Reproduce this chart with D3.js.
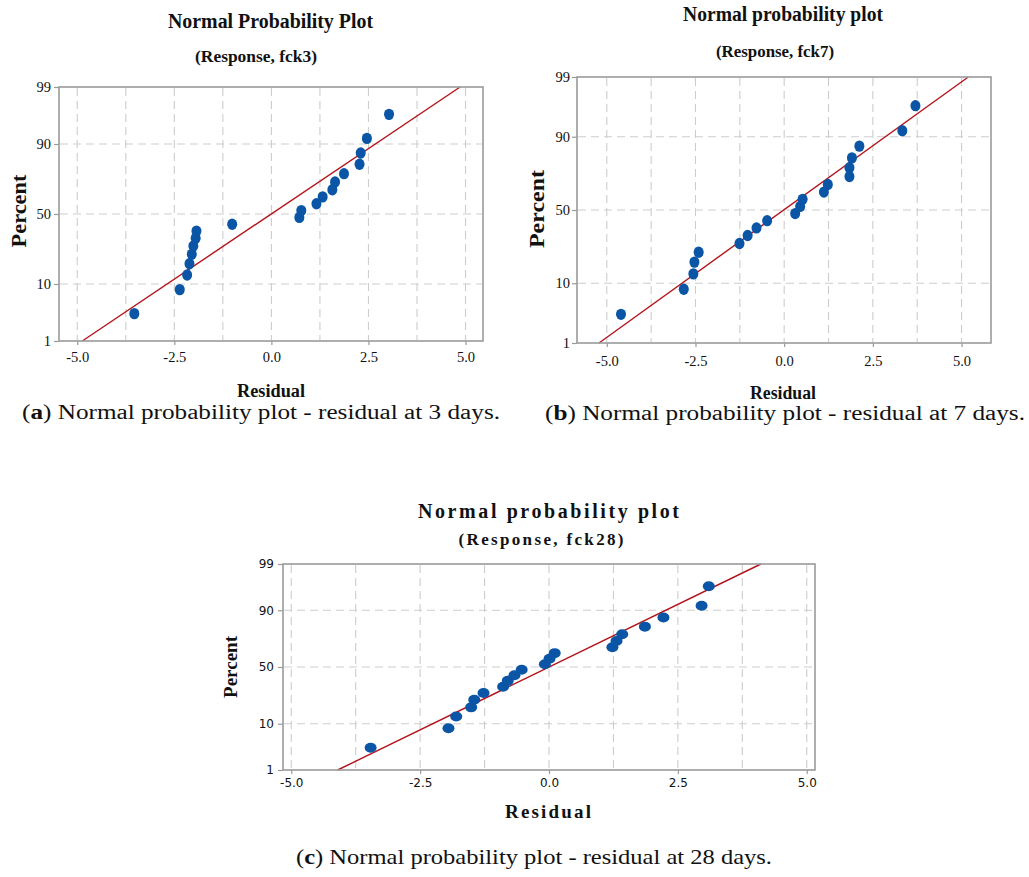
<!DOCTYPE html>
<html><head><meta charset="utf-8">
<script src="https://cdn.jsdelivr.net/npm/d3@7"></script>
<style>body{margin:0;background:#fff}svg{display:block}</style>
</head><body>
<svg id="chart" width="1029" height="877"></svg>
<script>
// ---------------- data ----------------
const plotPercents = [3.4, 8.3, 13.2, 18.1, 23.0, 27.9, 32.8, 37.7, 42.6, 47.5,
                      52.5, 57.4, 62.3, 67.2, 72.1, 77.0, 81.9, 86.8, 91.7, 96.6];
const residualsA = [-3.53, -2.36, -2.17, -2.11, -2.05, -2.01, -1.95, -1.93, -1.01, 0.72,
                     0.77, 1.16, 1.32, 1.57, 1.64, 1.87, 2.27, 2.30, 2.46, 3.03];
const residualsB = [-4.60, -2.83, -2.56, -2.53, -2.41, -1.26, -1.03, -0.78, -0.48, 0.31,
                     0.45, 0.52, 1.12, 1.23, 1.84, 1.84, 1.91, 2.12, 3.33, 3.70];
const residualsC = [-3.46, -1.95, -1.80, -1.51, -1.45, -1.27, -0.89, -0.80, -0.67, -0.53,
                    -0.08, 0.01, 0.11, 1.23, 1.31, 1.42, 1.86, 2.22, 2.96, 3.10];
const fitPercents = [1, 99];
const fitA = [-4.87, 4.86];
const fitB = [-5.22, 5.19];
const fitC = [-4.10, 4.11];
const yTickValues = [1, 10, 50, 90, 99];
const yTickLabels = ["1", "10", "50", "90", "99"];
const yGridValues = [10, 50, 90];
const xTickValues = [-5.0, -2.5, 0.0, 2.5, 5.0];
const xTickLabels = ["-5.0", "-2.5", "0.0", "2.5", "5.0"];
const xGridValues = [-5, -3.75, -2.5, -1.25, 0, 1.25, 2.5, 3.75, 5];
const titles = ["Normal Probability Plot", "Normal probability plot", "Normal probability plot"];
const subtitles = ["(Response, fck3)", "(Response, fck7)", "(Response, fck28)"];
const captionLetters = ["a", "b", "c"];
const captionTexts = ["Normal probability plot - residual at 3 days.",
                      "Normal probability plot - residual at 7 days.",
                      "Normal probability plot - residual at 28 days."];
const xAxisTitle = "Residual";
const yAxisTitle = "Percent";

// ---------------- helpers ----------------
function probit(p){
  const a=[-3.969683028665376e+01,2.209460984245205e+02,-2.759285104469687e+02,1.383577518672690e+02,-3.066479806614716e+01,2.506628277459239e+00];
  const b=[-5.447609879822406e+01,1.615858368580409e+02,-1.556989798598866e+02,6.680131188771972e+01,-1.328068155288572e+01];
  const c=[-7.784894002430293e-03,-3.223964580411365e-01,-2.400758277161838e+00,-2.549671010115819e+00,4.374664141464968e+00,2.938163982698783e+00];
  const d=[7.784695709041462e-03,3.224671290700398e-01,2.445134137142996e+00,3.754408661907416e+00];
  const pl=0.02425, ph=1-pl; let q,r;
  if(p<pl){q=Math.sqrt(-2*Math.log(p));return (((((c[0]*q+c[1])*q+c[2])*q+c[3])*q+c[4])*q+c[5])/((((d[0]*q+d[1])*q+d[2])*q+d[3])*q+1);}
  if(p>ph){q=Math.sqrt(-2*Math.log(1-p));return -(((((c[0]*q+c[1])*q+c[2])*q+c[3])*q+c[4])*q+c[5])/((((d[0]*q+d[1])*q+d[2])*q+d[3])*q+1);}
  q=p-0.5;r=q*q;return (((((a[0]*r+a[1])*r+a[2])*r+a[3])*r+a[4])*r+a[5])*q/(((((b[0]*r+b[1])*r+b[2])*r+b[3])*r+b[4])*r+1);
}
const z = pct => probit(pct/100);

const SERIF = "Liberation Serif, Times New Roman, serif";
const SANS = "DejaVu Sans, Verdana, sans-serif";

// ---------------- layout (positions & styles) ----------------
const panels = [
  { res: residualsA, fit: fitA, idx: 0,
    box: {x0: 59, y0: 87, x1: 483, y1: 341}, xDomain: [-5.47, 5.45],
    tickFont: SERIF, tickSize: 14.5, xPad: 7, yPad: 3, titleFont: SERIF,
    title: {cx: 270.5, y: 28, w: 205, fs: 20, adj: "spacingAndGlyphs"},
    sub: {cx: 256, y: 62, w: 122, fs: 17.5, adj: "spacingAndGlyphs"},
    xt: {cx: 271, y: 397, w: 68, fs: 18.5, adj: "spacingAndGlyphs"},
    yt: {cx: 18.5, cy: 211, w: 73, fs: 20, adj: "spacingAndGlyphs"},
    cap: {x: 22, y: 419, w: 478, fs: 20},
    dot: {rx: 5, ry: 5.7} },
  { res: residualsB, fit: fitB, idx: 1,
    box: {x0: 577, y0: 77, x1: 991, y1: 343}, xDomain: [-5.84, 5.83],
    tickFont: SERIF, tickSize: 14.5, xPad: 9, yPad: 2, titleFont: SERIF,
    title: {cx: 783, y: 21, w: 200, fs: 20, adj: "spacingAndGlyphs"},
    sub: {cx: 775, y: 57, w: 118, fs: 17, adj: "spacingAndGlyphs"},
    xt: {cx: 783, y: 399, w: 66, fs: 18, adj: "spacingAndGlyphs"},
    yt: {cx: 537, cy: 209, w: 78, fs: 20, adj: "spacingAndGlyphs"},
    cap: {x: 545, y: 420, w: 480, fs: 20},
    dot: {rx: 5, ry: 5.7} },
  { res: residualsC, fit: fitC, idx: 2,
    box: {x0: 283, y0: 564, x1: 815, y1: 770}, xDomain: [-5.16, 5.16],
    tickFont: SANS, tickSize: 12, xPad: 4, yPad: 4, titleFont: SERIF,
    title: {cx: 548.5, y: 518, w: 261, fs: 20, adj: "spacing"},
    sub: {cx: 541, y: 545, w: 165, fs: 17, adj: "spacing"},
    xt: {cx: 548, y: 818, w: 86, fs: 19, adj: "spacing"},
    yt: {cx: 230, cy: 667, w: 62, fs: 19, adj: "spacingAndGlyphs"},
    cap: {x: 296, y: 864, w: 476, fs: 21},
    dot: {rx: 6, ry: 5} }
];

const COLORS = { dot: "#0a55a5", fit: "#b3141c", grid: "#cdcdcd", frame: "#9a9a9a", text: "#111" };

const svg = d3.select("#chart");
svg.append("rect").attr("width", 1029).attr("height", 877).attr("fill", "#fff");

panels.forEach(P => {
  const B = P.box;
  const x = d3.scaleLinear().domain(P.xDomain).range([B.x0, B.x1]);
  const yz = d3.scaleLinear().domain([z(1), z(99)]).range([B.y1, B.y0]);
  const y = pct => yz(z(pct));
  const g = svg.append("g");

  g.append("rect").attr("x", B.x0).attr("y", B.y0).attr("width", B.x1 - B.x0).attr("height", B.y1 - B.y0)
    .attr("fill", "#fff");

  // grid
  g.selectAll(".gx").data(xGridValues).join("line")
    .attr("x1", d => x(d)).attr("x2", d => x(d)).attr("y1", B.y0 + 1).attr("y2", B.y1 - 1)
    .attr("stroke", COLORS.grid).attr("stroke-width", 1.1).attr("stroke-dasharray", "8,5");
  g.selectAll(".gy").data(yGridValues).join("line")
    .attr("y1", d => y(d)).attr("y2", d => y(d)).attr("x1", B.x0 + 1).attr("x2", B.x1 - 1)
    .attr("stroke", COLORS.grid).attr("stroke-width", 1.1).attr("stroke-dasharray", "8,5");

  // fit line
  g.append("path")
    .attr("d", d3.line().x(d => x(d[0])).y(d => y(d[1]))(P.fit.map((v, i) => [v, fitPercents[i]])))
    .attr("stroke", COLORS.fit).attr("stroke-width", 1.4).attr("fill", "none");

  // points
  g.selectAll(".pt").data(P.res.map((r, i) => [r, plotPercents[i]])).join("ellipse")
    .attr("cx", d => x(d[0])).attr("cy", d => y(d[1]))
    .attr("rx", P.dot.rx).attr("ry", P.dot.ry).attr("fill", COLORS.dot);

  // frame
  g.append("rect").attr("x", B.x0).attr("y", B.y0).attr("width", B.x1 - B.x0).attr("height", B.y1 - B.y0)
    .attr("fill", "none").attr("stroke", COLORS.frame).attr("stroke-width", 1.6);

  // axes
  const ax = g.append("g").attr("transform", `translate(0,${B.y1})`)
    .call(d3.axisBottom(x).tickValues(xTickValues).tickFormat((d, i) => xTickLabels[i])
      .tickSize(4).tickSizeOuter(0).tickPadding(P.xPad));
  const ay = g.append("g").attr("transform", `translate(${B.x0},0)`)
    .call(d3.axisLeft(yz).tickValues(yTickValues.map(z)).tickFormat((d, i) => yTickLabels[i])
      .tickSize(5).tickSizeOuter(0).tickPadding(P.yPad));
  [ax, ay].forEach(a => {
    a.attr("font-family", null).attr("font-size", null);
    a.select(".domain").remove();
    a.selectAll(".tick line").attr("stroke", COLORS.frame).attr("stroke-width", 1.2);
    a.selectAll(".tick text").attr("fill", COLORS.text)
      .attr("font-family", P.tickFont).attr("font-size", P.tickSize);
  });

  const addText = (t, cfg, weight, rotate) => {
    const el = svg.append("text").text(t)
      .attr("text-anchor", "middle")
      .attr("fill", COLORS.text)
      .attr("font-family", P.titleFont).attr("font-weight", weight)
      .attr("font-size", cfg.fs)
      .attr("textLength", cfg.w).attr("lengthAdjust", cfg.adj);
    if (rotate) {
      el.attr("transform", `translate(${cfg.cx + cfg.fs * 0.35},${cfg.cy}) rotate(-90)`);
    } else {
      el.attr("x", cfg.cx).attr("y", cfg.y);
    }
    return el;
  };
  addText(titles[P.idx], P.title, "bold");
  addText(subtitles[P.idx], P.sub, "bold");
  addText(xAxisTitle, P.xt, "bold");
  addText(yAxisTitle, P.yt, "bold", true);

  const cap = svg.append("text").attr("x", P.cap.x).attr("y", P.cap.y)
    .attr("fill", COLORS.text)
    .attr("font-family", SERIF).attr("font-size", P.cap.fs);
  cap.append("tspan").text("(");
  cap.append("tspan").attr("font-weight", "bold").text(captionLetters[P.idx]);
  cap.append("tspan").text(") " + captionTexts[P.idx]);
  cap.attr("textLength", P.cap.w).attr("lengthAdjust", "spacingAndGlyphs");
});
</script>
</body></html>
